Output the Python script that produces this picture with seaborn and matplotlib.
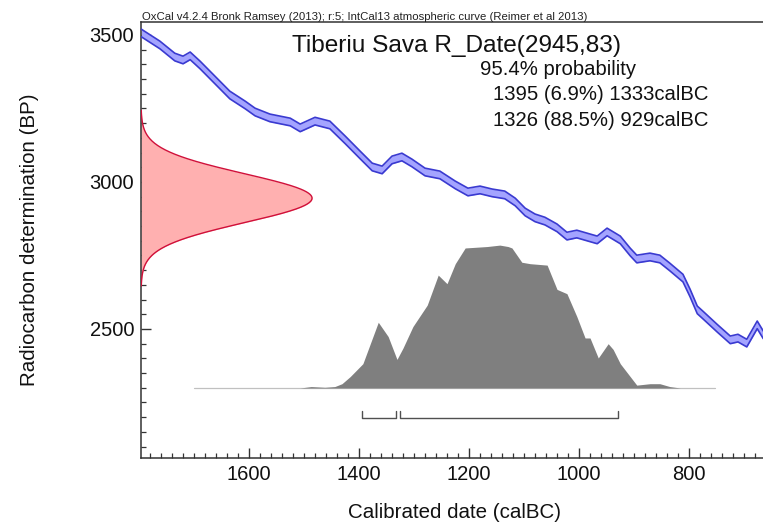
import numpy as np
import pandas as pd
import matplotlib
matplotlib.use("Agg")
import matplotlib.pyplot as plt
import seaborn as sns
from matplotlib.ticker import MultipleLocator

# IntCal13 atmospheric curve segment: calendar year (cal BC) and radiocarbon age (BP)
curve_calbc = [1796, 1762, 1735, 1720, 1707, 1689, 1662, 1635, 1607, 1589, 1562,
               1525, 1507, 1480, 1453, 1425, 1398, 1376, 1358, 1340, 1322, 1304,
               1280, 1253, 1225, 1202, 1180, 1158, 1135, 1116, 1098, 1080, 1062,
               1040, 1022, 1004, 980, 967, 949, 925, 907, 895, 871, 853, 835, 811,
               798, 785, 775, 749, 725, 711, 695, 676, 665]
curve_bp = [3507, 3466, 3425, 3415, 3429, 3398, 3347, 3296, 3262, 3238, 3218,
            3204, 3184, 3207, 3194, 3143, 3092, 3051, 3041, 3075, 3085, 3065,
            3034, 3024, 2990, 2966, 2973, 2963, 2956, 2932, 2898, 2878, 2867,
            2844, 2816, 2823, 2810, 2803, 2830, 2803, 2762, 2738, 2745, 2738, 2711, 2673,
            2622, 2565, 2548, 2503, 2463, 2469, 2452, 2514, 2480]
curve_sigma = 13

# Radiocarbon measurement
sample_name = "Tiberiu Sava"
r_date_bp = 2945
r_date_err = 83

# Calibrated probability distribution (relative to its maximum)
cal_years = [1700, 1507, 1487, 1462, 1444, 1431, 1416, 1393, 1365, 1347, 1331,
             1320, 1302, 1276, 1256, 1240, 1225, 1207, 1167, 1144, 1129, 1122,
             1104, 1089, 1058, 1040, 1022, 1004, 989, 980, 965, 947, 938, 925,
             895, 871, 853, 835, 816, 753]
cal_prob = [0.0, 0.0, 0.01, 0.005, 0.01, 0.03, 0.08, 0.17, 0.46, 0.36, 0.20,
            0.28, 0.43, 0.58, 0.79, 0.73, 0.87, 0.98, 0.99, 1.0, 0.99, 0.98,
            0.88, 0.87, 0.86, 0.69, 0.66, 0.50, 0.35, 0.35, 0.21, 0.31, 0.27, 0.17,
            0.02, 0.03, 0.03, 0.01, 0.0, 0.0]

# 95.4% highest probability ranges
range_from = [1395, 1326]
range_to = [1333, 929]
range_pct = [6.9, 88.5]

sns.set_theme(style="ticks")
plt.rcParams["font.family"] = ["Liberation Sans", "DejaVu Sans"]

fig = plt.figure(figsize=(7.63, 5.23), dpi=100)
ax = fig.add_axes([0.1848, 0.1243, 0.8152, 0.8327])

x_left, x_right = 1796.4, 665.5
y_bottom, y_top = 2061.2, 3542.5

# calibration curve band (mean +/- 1 sigma)
cx = np.array(curve_calbc, dtype=float)
cy = np.array(curve_bp, dtype=float)
ax.fill_between(cx, cy - curve_sigma, cy + curve_sigma, color="#a4a4ff", lw=0, zorder=2)
band = pd.DataFrame({"cal": np.concatenate([cx, cx]),
                     "bp": np.concatenate([cy - curve_sigma, cy + curve_sigma]),
                     "edge": ["low"] * len(cx) + ["high"] * len(cx)})
sns.lineplot(data=band, x="cal", y="bp", units="edge", estimator=None, sort=False,
             color="#3a3ad0", lw=1.2, ax=ax, zorder=3)

# radiocarbon measurement as a normal distribution on the BP axis
bp_grid = np.linspace(r_date_bp - 3.6 * r_date_err, r_date_bp + 3.6 * r_date_err, 400)
dens = np.exp(-0.5 * ((bp_grid - r_date_bp) / r_date_err) ** 2)
red_x = x_left - 311 * dens
ax.fill_betweenx(bp_grid, x_left, red_x, color="#ffb0b0", lw=0, zorder=2)
ax.plot(red_x, bp_grid, color="#d0103a", lw=1.0, zorder=3)

# calibrated distribution on the calendar axis
base, scale = 2299.3, 486.0
ax.plot([cal_years[0], cal_years[-1]], [base, base], color="#c0c0c0", lw=0.9, zorder=2)
ax.fill_between(cal_years, base, base + scale * np.array(cal_prob),
                color="#7f7f7f", lw=0, zorder=2)

# range brackets
br_y, br_h = 2197, 24
for a, b in zip(range_from, range_to):
    ax.plot([a, a, b, b], [br_y + br_h, br_y, br_y, br_y + br_h],
            color="#505050", lw=1.0, zorder=3)

ax.set_xlim(x_left, x_right)
ax.set_ylim(y_bottom, y_top)
ax.xaxis.set_major_locator(MultipleLocator(200))
ax.xaxis.set_minor_locator(MultipleLocator(20))
ax.yaxis.set_major_locator(MultipleLocator(500))
ax.yaxis.set_minor_locator(MultipleLocator(50))
ax.tick_params(which="major", direction="in", length=7.2, width=1.0, labelsize=14.5,
               pad=5, color="#333333", labelcolor="#111111")
ax.tick_params(which="minor", direction="in", length=3.6, width=0.9, color="#333333")
ax.set_xlabel("")
ax.set_ylabel("")
for side in ["left", "bottom", "top"]:
    ax.spines[side].set_visible(True)
    ax.spines[side].set_color("#333333")
    ax.spines[side].set_linewidth(1.1)
ax.spines["right"].set_visible(False)

W, H = 763, 523
fig.text(30 / W, 1 - 240 / H, "Radiocarbon determination (BP)", rotation=90,
         ha="center", va="center", fontsize=14.8, color="#111111")
fig.text(455 / W, 1 - 512 / H, "Calibrated date (calBC)", ha="center", va="center",
         fontsize=14.8, color="#111111")
fig.text(142 / W, 1 - 20 / H,
         "OxCal v4.2.4 Bronk Ramsey (2013); r:5; IntCal13 atmospheric curve (Reimer et al 2013)",
         fontsize=8.2, va="baseline", color="#222222")
fig.text(292 / W, 1 - 52 / H, f"{sample_name} R_Date({r_date_bp},{r_date_err})",
         fontsize=17.6, va="baseline", color="#111111")
fig.text(480 / W, 1 - 75 / H, "95.4% probability", fontsize=14.6, va="baseline",
         color="#111111")
for i, (a, b, p) in enumerate(zip(range_from, range_to, range_pct)):
    fig.text(493 / W, 1 - (100 + 26 * i) / H, f"{a} ({p}%) {b}calBC", fontsize=14.6,
             va="baseline", color="#111111")

fig.savefig("out.png", dpi=100)
